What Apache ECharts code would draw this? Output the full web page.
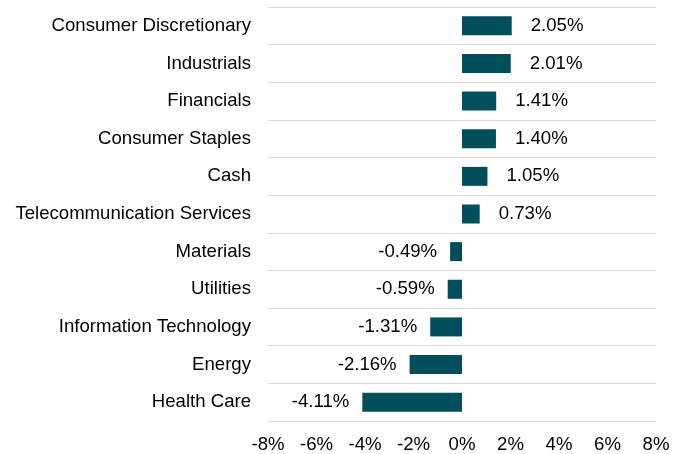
<!DOCTYPE html>
<html><head><meta charset="utf-8">
<script src="https://cdn.jsdelivr.net/npm/echarts@6/dist/echarts.min.js"></script>
<style>html,body{margin:0;padding:0;background:#fff}#c{width:682px;height:454px}</style>
</head><body><div id="c"></div>
<script>
const categories = ["Consumer Discretionary","Industrials","Financials","Consumer Staples","Cash","Telecommunication Services","Materials","Utilities","Information Technology","Energy","Health Care"];
const values = [2.05, 2.01, 1.41, 1.40, 1.05, 0.73, -0.49, -0.59, -1.31, -2.16, -4.11];
const xMin = -8, xMax = 8, xStep = 2;
const font = "Liberation Sans, Arial, sans-serif";
const fs = 18.6;
const chart = echarts.init(document.getElementById('c'), null, {renderer:'canvas'});
chart.setOption({
  animation:false,
  grid:{left:268,right:26,top:7,bottom:33,containLabel:false},
  xAxis:{type:'value',min:xMin,max:xMax,interval:xStep,
    axisLine:{show:false},axisTick:{show:false},splitLine:{show:false},
    axisLabel:{formatter:v=>v+'%',fontSize:fs,color:'#000',fontFamily:font,margin:14}},
  yAxis:{type:'category',data:categories,inverse:true,
    axisLine:{show:false},axisTick:{show:false},
    splitLine:{show:true,lineStyle:{color:'#d9d9d9',width:1}},
    axisLabel:{fontSize:fs,color:'#000',fontFamily:font,margin:17,padding:[2,0,0,0]}},
  series:[{type:'bar',data:values.map(v=>({value:v,label:{position:v<0?'left':'right',distance:v<0?13:19}})),
    barWidth:19,itemStyle:{color:'#014F5C'},
    label:{show:true,formatter:p=>p.value.toFixed(2)+'%',fontSize:fs,color:'#000',fontFamily:font}}]
});
</script></body></html>
